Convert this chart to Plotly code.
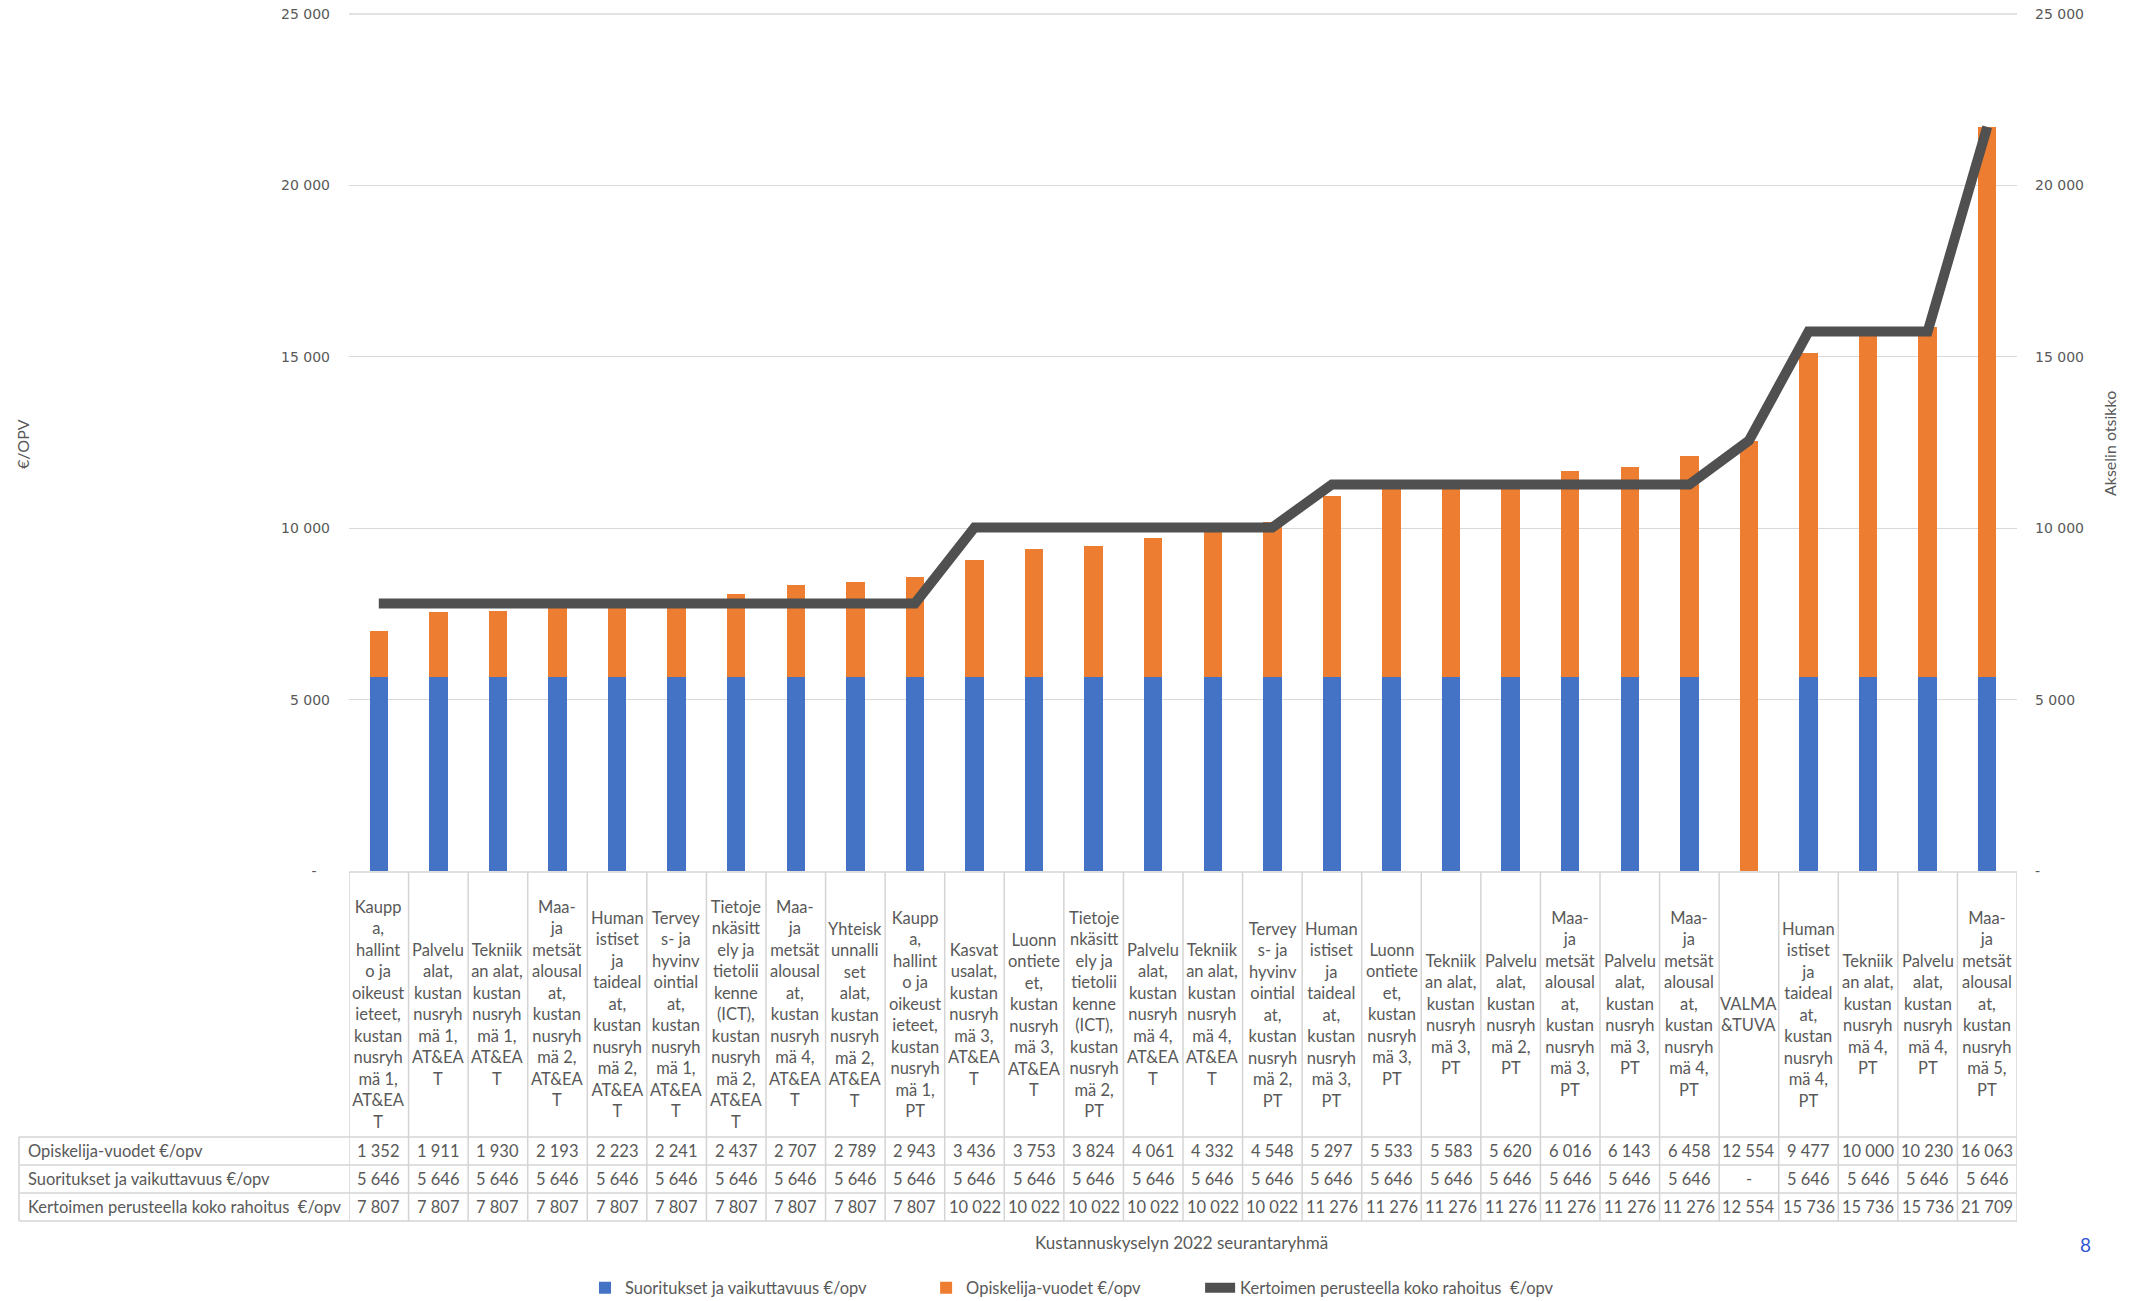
import plotly.graph_objects as go

# ---------------- data ----------------
categories = [
    "Kauppa, hallinto ja oikeustieteet, kustannusryhmä 1, AT&EAT",
    "Palvelualat, kustannusryhmä 1, AT&EAT",
    "Tekniikan alat, kustannusryhmä 1, AT&EAT",
    "Maa- ja metsätalousalat, kustannusryhmä 2, AT&EAT",
    "Humanistiset ja taidealat, kustannusryhmä 2, AT&EAT",
    "Terveys- ja hyvinvointialat, kustannusryhmä 1, AT&EAT",
    "Tietojenkäsittely ja tietoliikenne (ICT), kustannusryhmä 2, AT&EAT",
    "Maa- ja metsätalousalat, kustannusryhmä 4, AT&EAT",
    "Yhteiskunnalliset alat, kustannusryhmä 2, AT&EAT",
    "Kauppa, hallinto ja oikeustieteet, kustannusryhmä 1, PT",
    "Kasvatusalat, kustannusryhmä 3, AT&EAT",
    "Luonnontieteet, kustannusryhmä 3, AT&EAT",
    "Tietojenkäsittely ja tietoliikenne (ICT), kustannusryhmä 2, PT",
    "Palvelualat, kustannusryhmä 4, AT&EAT",
    "Tekniikan alat, kustannusryhmä 4, AT&EAT",
    "Terveys- ja hyvinvointialat, kustannusryhmä 2, PT",
    "Humanistiset ja taidealat, kustannusryhmä 3, PT",
    "Luonnontieteet, kustannusryhmä 3, PT",
    "Tekniikan alat, kustannusryhmä 3, PT",
    "Palvelualat, kustannusryhmä 2, PT",
    "Maa- ja metsätalousalat, kustannusryhmä 3, PT",
    "Palvelualat, kustannusryhmä 3, PT",
    "Maa- ja metsätalousalat, kustannusryhmä 4, PT",
    "VALMA&TUVA",
    "Humanistiset ja taidealat, kustannusryhmä 4, PT",
    "Tekniikan alat, kustannusryhmä 4, PT",
    "Palvelualat, kustannusryhmä 4, PT",
    "Maa- ja metsätalousalat, kustannusryhmä 5, PT",
]

# wrapped category labels as shown in the table header
category_labels = [
    "Kaupp|a,|hallint|o ja|oikeust|ieteet,|kustan|nusryh|mä 1,|AT&EA|T",
    "Palvelu|alat,|kustan|nusryh|mä 1,|AT&EA|T",
    "Tekniik|an alat,|kustan|nusryh|mä 1,|AT&EA|T",
    "Maa-|ja|metsät|alousal|at,|kustan|nusryh|mä 2,|AT&EA|T",
    "Human|istiset|ja|taideal|at,|kustan|nusryh|mä 2,|AT&EA|T",
    "Tervey|s- ja|hyvinv|ointial|at,|kustan|nusryh|mä 1,|AT&EA|T",
    "Tietoje|nkäsitt|ely ja|tietolii|kenne|(ICT),|kustan|nusryh|mä 2,|AT&EA|T",
    "Maa-|ja|metsät|alousal|at,|kustan|nusryh|mä 4,|AT&EA|T",
    "Yhteisk|unnalli|set|alat,|kustan|nusryh|mä 2,|AT&EA|T",
    "Kaupp|a,|hallint|o ja|oikeust|ieteet,|kustan|nusryh|mä 1,|PT",
    "Kasvat|usalat,|kustan|nusryh|mä 3,|AT&EA|T",
    "Luonn|ontiete|et,|kustan|nusryh|mä 3,|AT&EA|T",
    "Tietoje|nkäsitt|ely ja|tietolii|kenne|(ICT),|kustan|nusryh|mä 2,|PT",
    "Palvelu|alat,|kustan|nusryh|mä 4,|AT&EA|T",
    "Tekniik|an alat,|kustan|nusryh|mä 4,|AT&EA|T",
    "Tervey|s- ja|hyvinv|ointial|at,|kustan|nusryh|mä 2,|PT",
    "Human|istiset|ja|taideal|at,|kustan|nusryh|mä 3,|PT",
    "Luonn|ontiete|et,|kustan|nusryh|mä 3,|PT",
    "Tekniik|an alat,|kustan|nusryh|mä 3,|PT",
    "Palvelu|alat,|kustan|nusryh|mä 2,|PT",
    "Maa-|ja|metsät|alousal|at,|kustan|nusryh|mä 3,|PT",
    "Palvelu|alat,|kustan|nusryh|mä 3,|PT",
    "Maa-|ja|metsät|alousal|at,|kustan|nusryh|mä 4,|PT",
    "VALMA|&TUVA",
    "Human|istiset|ja|taideal|at,|kustan|nusryh|mä 4,|PT",
    "Tekniik|an alat,|kustan|nusryh|mä 4,|PT",
    "Palvelu|alat,|kustan|nusryh|mä 4,|PT",
    "Maa-|ja|metsät|alousal|at,|kustan|nusryh|mä 5,|PT",
]

opiskelija_vuodet = [1352, 1911, 1930, 2193, 2223, 2241, 2437, 2707, 2789, 2943,
                     3436, 3753, 3824, 4061, 4332, 4548, 5297, 5533, 5583, 5620,
                     6016, 6143, 6458, 12554, 9477, 10000, 10230, 16063]
suoritukset = [5646, 5646, 5646, 5646, 5646, 5646, 5646, 5646, 5646, 5646,
               5646, 5646, 5646, 5646, 5646, 5646, 5646, 5646, 5646, 5646,
               5646, 5646, 5646, None, 5646, 5646, 5646, 5646]
kertoimen = [7807, 7807, 7807, 7807, 7807, 7807, 7807, 7807, 7807, 7807,
             10022, 10022, 10022, 10022, 10022, 10022, 11276, 11276, 11276, 11276,
             11276, 11276, 11276, 12554, 15736, 15736, 15736, 21709]

name_opisk = "Opiskelija-vuodet €/opv"
name_suor = "Suoritukset ja vaikuttavuus €/opv"
name_kert = "Kertoimen perusteella koko rahoitus\u00a0 €/opv"

y_tickvals = [0, 5000, 10000, 15000, 20000, 25000]
y_ticktext_left = ["-\u00a0\u00a0\u00a0", "5 000", "10 000", "15 000", "20 000", "25 000"]
y_ticktext_right = ["-", "5 000", "10 000", "15 000", "20 000", "25 000"]

x_title = "Kustannuskyselyn 2022 seurantaryhmä"
y_title_left = "€/OPV"
y_title_right = "Akselin otsikko"
slide_number = "8"

# ---------------- layout geometry (screen pixels) ----------------
W, H = 2144, 1301
L, R, T, B = 349, 127, 14, 430   # plot area edges
PW, PH = W - L - R, H - T - B
GRID = "#D9D9D9"
TXT = "#595959"
FONT = "Lato, Calibri, sans-serif"
LEG_PAD = "\u00a0" * 13          # wider gap between legend entries


def px(xp):
    return (xp - L) / PW


def py(yp):
    return (H - B - yp) / PH


def fmt(v):
    if v is None:
        return "-"
    return f"{v:,}".replace(",", " ")


fig = go.Figure()
fig.add_trace(go.Bar(x=categories, y=suoritukset, name=name_suor + LEG_PAD,
                     marker=dict(color="#4472C4", line=dict(width=0))))
fig.add_trace(go.Bar(x=categories, y=opiskelija_vuodet, name=name_opisk + LEG_PAD,
                     marker=dict(color="#ED7D31", line=dict(width=0))))
fig.add_trace(go.Scatter(x=categories, y=kertoimen, name=name_kert, mode="lines",
                         line=dict(color="#505050", width=10), yaxis="y2"))

tickfont = dict(family="DejaVu Sans, sans-serif", size=14, color=TXT)
fig.update_layout(
    width=W, height=H,
    margin=dict(l=L, r=R, t=T, b=B, autoexpand=False),
    paper_bgcolor="white", plot_bgcolor="white",
    barmode="stack", bargap=0.69,
    showlegend=True,
    legend=dict(orientation="h", xref="container", yref="container", traceorder="normal",
                x=0.5, xanchor="center", y=1 - 1288 / H, yanchor="middle",
                font=dict(family=FONT, size=16.5, color=TXT)),
    xaxis=dict(type="category", range=[-0.5, len(categories) - 0.5],
               showticklabels=False, showgrid=False, zeroline=False, showline=False),
    yaxis=dict(range=[0, 25000], tickvals=y_tickvals, ticktext=y_ticktext_left,
               showgrid=True, gridcolor=GRID, gridwidth=1.3, zeroline=False,
               showline=False, tickfont=tickfont, ticklabelstandoff=18),
    yaxis2=dict(range=[0, 25000], overlaying="y", side="right",
                tickvals=y_tickvals, ticktext=y_ticktext_right,
                showgrid=False, zeroline=False, showline=False,
                tickfont=tickfont, ticklabelstandoff=17),
)

shapes = []
# top gridline (plotly skips the grid line at the very end of the range)
shapes.append(dict(type="line", xref="paper", yref="paper", x0=0, x1=1, y0=1, y1=1,
                   layer="below", line=dict(color=GRID, width=1.3)))
line_style = dict(color="#D4D4D4", width=1.5)
# table top border (x-axis line)
shapes.append(dict(type="line", xref="x", yref="paper", x0=-0.5, x1=len(categories) - 0.5,
                   y0=py(872), y1=py(872), line=line_style))
# column separators
for k in range(len(categories) + 1):
    shapes.append(dict(type="line", xref="x", yref="paper", x0=k - 0.5, x1=k - 0.5,
                       y0=py(872), y1=py(1221), line=line_style))
# row label column left border
shapes.append(dict(type="line", xref="paper", yref="paper", x0=px(19), x1=px(19),
                   y0=py(1137), y1=py(1221), line=line_style))
# horizontal row lines
for yp in (1137, 1165, 1193, 1221):
    shapes.append(dict(type="line", xref="paper", yref="paper", x0=px(19), x1=1,
                       y0=py(yp), y1=py(yp), line=line_style))
fig.update_layout(shapes=shapes)

ann = []
cell_font = dict(family=FONT, size=16.5, color=TXT)
for cat, lab in zip(categories, category_labels):
    text = lab.replace("|", "<br>")
    if lab.startswith("Maa-"):
        text += "<br>\u00a0"   # Excel leaves an empty line below these labels
    ann.append(dict(x=cat, xref="x", y=py(1015), yref="paper", text=text,
                    showarrow=False, align="center", xanchor="center", yanchor="middle",
                    font=cell_font))

rows = [(name_opisk, opiskelija_vuodet, 1151), (name_suor, suoritukset, 1179),
        (name_kert, kertoimen, 1207)]
for rname, vals, yc in rows:
    ann.append(dict(x=px(26), xref="paper", y=py(yc), yref="paper", text=rname,
                    showarrow=False, xanchor="left", yanchor="middle", font=cell_font))
    for cat, v in zip(categories, vals):
        ann.append(dict(x=cat, xref="x", y=py(yc), yref="paper", text=fmt(v),
                        showarrow=False, xanchor="center", yanchor="middle", font=cell_font))

ann.append(dict(x=px(1181), xref="paper", y=py(1242), yref="paper", text=x_title,
                showarrow=False, xanchor="center", yanchor="middle",
                font=dict(family=FONT, size=17, color=TXT)))
ann.append(dict(x=px(23), xref="paper", y=py(444), yref="paper", text=y_title_left,
                showarrow=False, textangle=-90, xanchor="center", yanchor="middle",
                font=dict(family=FONT, size=16, color=TXT)))
ann.append(dict(x=px(2110), xref="paper", y=py(444), yref="paper", text=y_title_right,
                showarrow=False, textangle=-90, xanchor="center", yanchor="middle",
                font=dict(family=FONT, size=16, color=TXT)))
ann.append(dict(x=px(2085), xref="paper", y=py(1244), yref="paper", text=slide_number,
                showarrow=False, xanchor="center", yanchor="middle",
                font=dict(family=FONT, size=19, color="#2F55D4")))
fig.update_layout(annotations=ann)

fig.write_html(
    "out.html",
    config={"displayModeBar": False},
    post_script="document.body.style.margin='0px';"
                "document.documentElement.style.overflow='hidden';",
)
